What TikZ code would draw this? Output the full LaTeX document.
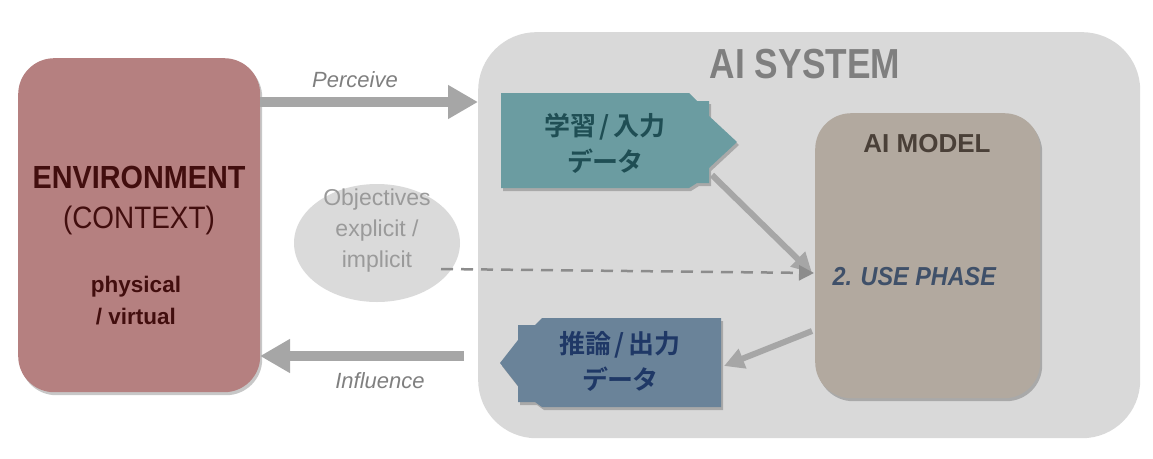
\documentclass[tikz,border=0pt]{standalone}
\usepackage{fontspec}
\setmainfont{Liberation Sans}
\newfontfamily\narrowfont{Liberation Sans}[FakeStretch=0.9]
\newfontfamily\cjk{Noto Sans CJK JP Bold}[RawFeature=+palt]
\usetikzlibrary{arrows.meta,shadows,calc,shapes.geometric}
\definecolor{sysgray}{HTML}{D9D9D9}
\definecolor{envcol}{HTML}{B58080}
\definecolor{envtext}{HTML}{420E0E}
\definecolor{objfill}{HTML}{DADADA}
\definecolor{objtext}{HTML}{9A9A9A}
\definecolor{tealcol}{HTML}{6B9CA1}
\definecolor{tealtext}{HTML}{1F4E54}
\definecolor{slatecol}{HTML}{6A8399}
\definecolor{slatetext}{HTML}{1F3866}
\definecolor{modelcol}{HTML}{B2A99F}
\definecolor{modeltext}{HTML}{4A4038}
\definecolor{phasetext}{HTML}{3F5069}
\definecolor{arrowgray}{HTML}{A6A6A6}
\definecolor{dashgray}{HTML}{8C8C8C}
\definecolor{labelgray}{HTML}{7F7F7F}
\tikzset{
  softshadow/.style={drop shadow={shadow xshift=2pt,shadow yshift=-3pt,opacity=0.22,fill=black}},
  bigarrow/.style={draw=arrowgray,line width=10.5pt,-{Triangle[length=30pt,width=32pt]}},
  midarrow/.style={draw=arrowgray,line width=6pt,-{Triangle[length=20pt,width=20pt]}},
  dasharrow/.style={draw=dashgray,line width=2.5pt,dash pattern=on 12pt off 8pt,-{Triangle[length=15pt,width=15pt]}},
  flowlabel/.style={text=labelgray,font=\fontsize{22}{24}\selectfont\itshape},
  cjktext/.style={font=\cjk\fontsize{26}{36}\selectfont,align=center}
}
\newcommand{\cjkslash}{\hspace{3pt}/\hspace{3pt}}
\begin{document}
\begin{tikzpicture}[x=1pt,y=-1pt]
\useasboundingbox (0,0) rectangle (1153,458);
% AI system container
\node[fill=sysgray,rounded corners=58pt,minimum width=662pt,minimum height=406pt,inner sep=0pt,anchor=north west] (sys) at (478,32) {};
\node[text=labelgray,font=\narrowfont\addfontfeature{FakeStretch=0.84}\bfseries\fontsize{42}{44}\selectfont] (systitle) at (805,64) {AI SYSTEM};
% environment
\node[fill=envcol,rounded corners=36pt,minimum width=242pt,minimum height=334pt,inner sep=0pt,anchor=north west,softshadow] (env) at (18,58) {};
\node[text=envtext,font=\narrowfont\bfseries\fontsize{32}{34}\selectfont] (envtitle) at (139,177) {ENVIRONMENT};
\node[text=envtext,font=\narrowfont\fontsize{31}{33}\selectfont] (envctx) at (139,220) {(CONTEXT)};
\node[text=envtext,font=\bfseries\fontsize{22.5}{32}\selectfont,align=center] (envphys) at (136,301) {physical\\/ virtual};
% objectives
\node[fill=objfill,ellipse,minimum width=166pt,minimum height=118pt,inner sep=0pt] (obj) at (377,243) {};
\node[text=objtext,font=\fontsize{23}{31}\selectfont,align=center] (objtxt) at (377,231) {Objectives\\explicit /\\implicit};
% AI model
\node[fill=modelcol,rounded corners=36pt,minimum width=225pt,minimum height=285pt,inner sep=0pt,anchor=north west,softshadow] (model) at (815,113) {};
\node[text=modeltext,font=\bfseries\fontsize{26}{28}\selectfont] (modeltitle) at (927,144) {AI MODEL};
\node[text=phasetext,font=\narrowfont\bfseries\itshape\fontsize{26}{28}\selectfont,anchor=west] (phase) at (829,277) {2. USE PHASE};
% input data box
\fill[tealcol,softshadow] (501,93) -- (689,93) -- (697,101) -- (709,101) -- (709,116) -- (737,142) -- (709,168) -- (709,183) -- (697,183) -- (689,188) -- (501,188) -- cycle;
\node[text=tealtext,cjktext] (indata) at (605,143) {学習\cjkslash 入力\\データ};
% output data box
\fill[slatecol,softshadow] (721,318) -- (542,318) -- (535,325) -- (518,325) -- (518,340) -- (500,363) -- (518,386) -- (518,402) -- (535,402) -- (542,407) -- (721,407) -- cycle;
\node[text=slatetext,cjktext] (outdata) at (620,361) {推論\cjkslash 出力\\データ};
% connectors
\coordinate (pin) at (260,102);
\coordinate (pout) at (478,102);
\draw[bigarrow] (pin) -- (pout);
\node[flowlabel] (perclabel) at (355,80) {Perceive};
\coordinate (iin) at (464,356);
\coordinate (iout) at (260,356);
\draw[bigarrow] (iin) -- (iout);
\node[flowlabel] (inflabel) at (380,381) {Influence};
\coordinate (d1) at (712,175);
\coordinate (d2) at (812,273);
\draw[midarrow] (d1) -- (d2);
\coordinate (o1) at (812,331);
\coordinate (o2) at (724,366);
\draw[midarrow] (o1) -- (o2);
\coordinate (ds) at (441,269);
\coordinate (de) at (814,273);
\draw[dasharrow] (ds) -- (de);
\end{tikzpicture}
\end{document}
